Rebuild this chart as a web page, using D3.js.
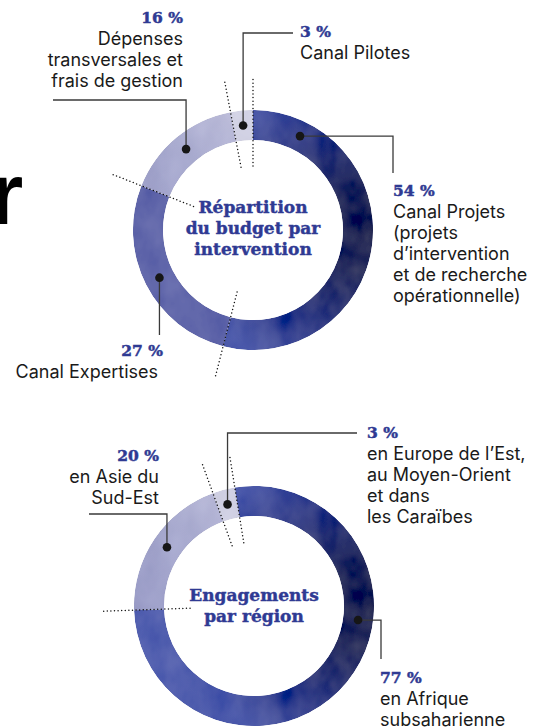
<!DOCTYPE html>
<html><head><meta charset="utf-8">
<script src="https://cdn.jsdelivr.net/npm/d3@7"></script>
<style>html,body{margin:0;padding:0;background:#fff;overflow:hidden;} svg{display:block;}</style>
</head><body>
<script>
// ---------- DATA ----------
const budgetTitle = ["Répartition", "du budget par", "intervention"];
const budgetCategories = ["Canal Projets", "Canal Expertises", "Dépenses transversales et frais de gestion", "Canal Pilotes"];
const budgetValues = [54, 27, 16, 3];
const budgetLabelLines = [
  ["Canal Projets", "(projets", "d’intervention", "et de recherche", "opérationnelle)"],
  ["Canal Expertises"],
  ["Dépenses", "transversales et", "frais de gestion"],
  ["Canal Pilotes"]
];

const regionTitle = ["Engagements", "par région"];
const regionCategories = ["Asie du Sud-Est", "Europe de l’Est, Moyen-Orient, Caraïbes", "Afrique subsaharienne"];
const regionValues = [20, 3, 77];
const regionLabelLines = [
  ["en Asie du", "Sud-Est"],
  ["en Europe de l’Est,", "au Moyen-Orient", "et dans", "les Caraïbes"],
  ["en Afrique", "subsaharienne"]
];

// ---------- LAYOUT / STYLE ----------
const W = 540, H = 727;
const BLUE = "#2f3a93";
const deg = Math.PI / 180;
const R_OUT = 120, R_IN = 90, R_MID = 105, DOT_IN = 64, DOT_OUT = 152;

const charts = [
  {
    cx: 253, cy: 230, start: 0,
    values: budgetValues, lines: budgetLabelLines, title: budgetTitle, titleY: 213,
    fills: ["url(#dark1)", "#6066aa", "url(#lav1)", "#d3d3e5"],
    layout: [
      { dotAngle: 26.6, leader: [["h", 393], ["v", 173]], x: 393, y: 196, anchor: "start" },
      { leader: [["v", 335]], x: 163, y: 356, anchor: "end", textX: 158 },
      { leader: [["v", 100], ["h", 53]], x: 183, y: 23, anchor: "end" },
      { leader: [["v", 33], ["h", 293]], x: 300, y: 37, anchor: "start" }
    ]
  },
  {
    cx: 254, cy: 606, start: -92,
    values: regionValues, lines: regionLabelLines, title: regionTitle, titleY: 601,
    fills: ["url(#lav2)", "#d0d0e3", "url(#dark2)"],
    layout: [
      { leader: [["v", 514], ["h", 89]], x: 159, y: 461, anchor: "end" },
      { leader: [["v", 433], ["h", 357]], x: 367, y: 438, anchor: "start" },
      { dotAngle: 97.7, leader: [["h", 381], ["v", 659]], x: 380, y: 683, anchor: "start", lh: 20.5 }
    ]
  }
];

const svg = d3.select("body").append("svg").attr("width", W).attr("height", H)
  .attr("viewBox", `0 0 ${W} ${H}`);
const defs = svg.append("defs");

// texture filter (soft watercolor-like mottling)
const f = defs.append("filter").attr("id", "tex").attr("x", "-5%").attr("y", "-5%").attr("width", "110%").attr("height", "110%");
f.append("feTurbulence").attr("type", "fractalNoise").attr("baseFrequency", "0.045 0.03").attr("numOctaves", 3).attr("seed", 7).attr("result", "noise");
f.append("feColorMatrix").attr("in", "noise").attr("type", "matrix")
  .attr("values", "0.33 0.33 0.33 0 0  0.33 0.33 0.33 0 0  0.33 0.33 0.33 0 0  0 0 0 0 1").attr("result", "gray");
f.append("feComposite").attr("in", "SourceGraphic").attr("in2", "gray").attr("operator", "arithmetic")
  .attr("k1", 0).attr("k2", 1).attr("k3", 0.16).attr("k4", -0.08).attr("result", "mix");
f.append("feComposite").attr("in", "mix").attr("in2", "SourceGraphic").attr("operator", "in");

// gradients (in the translated ring coordinates)
charts.forEach((c, i) => {
  const g = defs.append("radialGradient").attr("id", "dark" + (i + 1)).attr("gradientUnits", "userSpaceOnUse")
    .attr("cx", 118).attr("cy", 0).attr("r", 255);
  [[0, "#1f2452"], [0.18, "#262c5e"], [0.45, "#37418a"], [0.68, "#4a58aa"], [1, "#5663b2"]]
    .forEach(s => g.append("stop").attr("offset", s[0]).attr("stop-color", s[1]));
  const l = defs.append("linearGradient").attr("id", "lav" + (i + 1)).attr("gradientUnits", "userSpaceOnUse")
    .attr("x1", -120).attr("y1", 0).attr("x2", -20).attr("y2", -120);
  [[0, "#9a9cc7"], [0.6, "#aaacd0"], [1, "#bdbdda"]]
    .forEach(s => l.append("stop").attr("offset", s[0]).attr("stop-color", s[1]));
});

// big cropped letter (fragment of a heading outside the frame)
svg.append("text").attr("x", -11).attr("y", 224)
  .attr("font-family", "Liberation Sans, Arial, sans-serif").attr("font-weight", 700)
  .attr("font-size", 88).attr("fill", "#000").text("r");

const arc = d3.arc().innerRadius(R_IN).outerRadius(R_OUT);
const SANS = "Inter, 'Noto Sans', sans-serif";
const SERIF = "'DejaVu Serif', serif";

charts.forEach(c => {
  const pie = d3.pie().sort(null).value(d => d)
    .startAngle(c.start * deg).endAngle(c.start * deg + 2 * Math.PI);
  const slices = pie(c.values);
  const g = svg.append("g").attr("transform", `translate(${c.cx},${c.cy})`);

  g.append("g").attr("filter", "url(#tex)")
    .selectAll("path").data(slices).join("path")
    .attr("d", arc)
    .attr("fill", (d, i) => c.fills[i]);

  // dotted boundary lines
  g.selectAll("line.sep").data(slices).join("line").attr("class", "sep")
    .attr("x1", d => DOT_IN * Math.sin(d.startAngle)).attr("y1", d => -DOT_IN * Math.cos(d.startAngle))
    .attr("x2", d => DOT_OUT * Math.sin(d.startAngle)).attr("y2", d => -DOT_OUT * Math.cos(d.startAngle))
    .attr("stroke", "#111").attr("stroke-width", 1.5).attr("stroke-linecap", "round")
    .attr("stroke-dasharray", "0 3.6");

  // title
  const t = svg.append("text").attr("text-anchor", "middle")
    .attr("font-family", SERIF).attr("font-weight", 700).attr("font-size", 17).attr("fill", BLUE)
    .attr("stroke", BLUE).attr("stroke-width", 0.45);
  c.title.forEach((s, i) => t.append("tspan").attr("x", c.cx).attr("y", c.titleY + i * 21).text(s));

  // leaders, dots & labels
  slices.forEach((d, i) => {
    const L = c.layout[i];
    const a = L.dotAngle !== undefined ? L.dotAngle * deg : (d.startAngle + d.endAngle) / 2;
    const px = c.cx + R_MID * Math.sin(a), py = c.cy - R_MID * Math.cos(a);
    let x = px, y = py, p = `M${px},${py}`;
    L.leader.forEach(([dir, v]) => { if (dir === "v") y = v; else x = v; p += `L${x},${y}`; });
    svg.append("path").attr("d", p).attr("fill", "none").attr("stroke", "#3a3a3a").attr("stroke-width", 1.3);
    svg.append("circle").attr("cx", px).attr("cy", py).attr("r", 4.3).attr("fill", "#161616");

    svg.append("text").attr("x", L.x).attr("y", L.y).attr("text-anchor", L.anchor)
      .attr("font-family", SERIF).attr("font-weight", 700).attr("font-size", 15.5).attr("fill", BLUE)
      .attr("stroke", BLUE).attr("stroke-width", 0.5)
      .text(`${c.values[i]} %`);
    const tx = svg.append("text").attr("text-anchor", L.anchor)
      .attr("font-family", SANS).attr("font-size", 18).attr("fill", "#1a1a1a");
    c.lines[i].forEach((s, j) => tx.append("tspan")
      .attr("x", L.textX !== undefined ? L.textX : L.x)
      .attr("y", L.y + 22 + j * (L.lh || 21)).text(s));
  });
});
</script>
</body></html>
